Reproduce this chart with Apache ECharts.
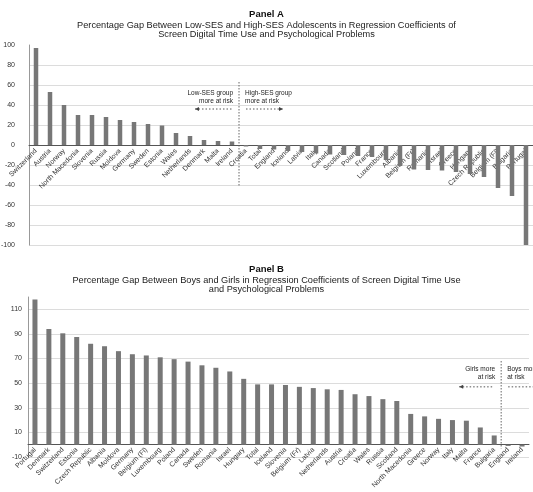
<!DOCTYPE html>
<html>
<head>
<meta charset="utf-8">
<script src="https://cdn.jsdelivr.net/npm/echarts@6/dist/echarts.min.js"></script>
<style>
  html, body { margin: 0; padding: 0; background: #ffffff; }
  #chart { width: 533px; height: 492px; }
</style>
</head>
<body>
<div id="chart"></div>
<script>
// Panel A: gap between low-SES and high-SES adolescents (%)
const sesCountries = [
  'Switzerland', 'Austria', 'Norway', 'North Macedonia', 'Slovenia', 'Russia',
  'Moldova', 'Germany', 'Sweden', 'Estonia', 'Wales', 'Netherlands', 'Denmark',
  'Malta', 'Ireland', 'Croatia', 'Total', 'England', 'Iceland', 'Latvia', 'Italy',
  'Canada', 'Scotland', 'Poland', 'France', 'Luxembourg', 'Albania', 'Belgium (Fr)',
  'Romania', 'Israel', 'Greece', 'Hungary', 'Czech Republic', 'Belgium (Fl)',
  'Bulgaria', 'Portugal'
];
const sesGap = [
  97, 53, 40, 30, 30, 28, 25, 23, 21, 19.5, 12, 9, 5, 4, 3.5, -1.5, -4, -4.5,
  -6, -7, -8.5, -9.5, -10, -11, -12, -15, -21, -24.5, -25, -25.5, -27, -29, -32,
  -43, -51, -100
];
const sesAxisRange = [-100, 100];
const sesAxisStep = 20;

// Panel B: gap between boys and girls (%)
const sexCountries = [
  'Portugal', 'Denmark', 'Switzerland', 'Estonia', 'Czech Republic', 'Albania',
  'Moldova', 'Germany', 'Belgium (Fl)', 'Luxembourg', 'Poland', 'Canada', 'Sweden',
  'Romania', 'Israel', 'Hungary', 'Total', 'Iceland', 'Slovenia', 'Belgium (Fr)',
  'Latvia', 'Netherlands', 'Austria', 'Croatia', 'Wales', 'Russia', 'Scotland',
  'North Macedonia', 'Greece', 'Norway', 'Italy', 'Malta', 'France', 'Bulgaria',
  'England', 'Ireland'
];
const sexGap = [
  118, 94, 90.5, 87.5, 82, 80, 76, 73.5, 72.5, 71, 69.5, 67.5, 64.5, 62.5, 59.5,
  53.5, 49, 49, 48.5, 47, 46, 45, 44.5, 41, 39.5, 37, 35.5, 25, 23, 21, 20, 19.5,
  14, 7.5, -1, -1.5
];
const sexAxisRange = [-10, 120];
const sexAxisStep = 20;

// Annotation text
const sesLeftNote = 'Low-SES group\nmore at risk';
const sesRightNote = 'High-SES group\nmore at risk';
const sexLeftNote = 'Girls more\nat risk';
const sexRightNote = 'Boys more\nat risk';

const FONT = '"Liberation Sans", Arial, sans-serif';
const BAR = '#777777';
const GRID_LINE = '#dcdcdc';

const chart = echarts.init(document.getElementById('chart'), null, { renderer: 'canvas' });

function catAxis(gridIndex, data, labelGap) {
  return {
    type: 'category',
    gridIndex: gridIndex,
    data: data,
    axisLine: { onZero: false, lineStyle: { color: '#555', width: 1 } },
    axisTick: { show: false },
    axisLabel: {
      rotate: 45, interval: 0, margin: labelGap,
      fontFamily: FONT, fontSize: 7, color: '#333'
    },
    splitLine: { show: false }
  };
}

function valAxis(gridIndex, range, step, labelGap) {
  return {
    type: 'value',
    gridIndex: gridIndex,
    min: range[0], max: range[1], interval: step,
    axisLine: { show: true, lineStyle: { color: '#999', width: 1 } },
    axisTick: { show: false },
    axisLabel: {
      fontFamily: FONT, fontSize: 7, color: '#333', margin: labelGap,
      showMaxLabel: (range[1] - range[0]) % step === 0
    },
    splitLine: { show: true, showMaxLine: false, lineStyle: { color: GRID_LINE, width: 1 } }
  };
}

const titleStyle = { fontFamily: FONT, fontSize: 9.5, fontWeight: 'bold', color: '#111' };
const subStyle = { fontFamily: FONT, fontSize: 9.2, fontWeight: 'normal', color: '#222', lineHeight: 8.7 };

chart.setOption({
  animation: false,
  backgroundColor: '#ffffff',
  title: [
    { text: 'Panel A', left: 'center', top: 4, textStyle: titleStyle,
      subtext: 'Percentage Gap Between Low-SES and High-SES Adolescents in Regression Coefficients of\nScreen Digital Time Use and Psychological Problems',
      subtextStyle: subStyle, itemGap: 2 },
    { text: 'Panel B', left: 'center', top: 259, textStyle: titleStyle,
      subtext: 'Percentage Gap Between Boys and Girls in Regression Coefficients of Screen Digital Time Use\nand Psychological Problems',
      subtextStyle: subStyle, itemGap: 2 }
  ],
  grid: [
    { left: 29, right: 0, top: 45, height: 200, outerBoundsMode: 'none', containLabel: false },
    { left: 28, right: 4, top: 297, height: 160, outerBoundsMode: 'none', containLabel: false }
  ],
  xAxis: [catAxis(0, sesCountries, 5), catAxis(1, sexCountries, 4)],
  yAxis: [valAxis(0, sesAxisRange, sesAxisStep, 14), valAxis(1, sexAxisRange, sexAxisStep, 6)],
  series: [
    { type: 'bar', xAxisIndex: 0, yAxisIndex: 0, data: sesGap, barWidth: 4.5,
      itemStyle: { color: BAR }, silent: true },
    { type: 'bar', xAxisIndex: 1, yAxisIndex: 1, data: sexGap, barWidth: 5,
      itemStyle: { color: BAR }, silent: true }
  ]
});

// Lift each category axis (line and labels) up to the zero value of its panel
function zeroOffset(idx, range) {
  const yZero = chart.convertToPixel({ yAxisIndex: idx }, 0);
  const yMin = chart.convertToPixel({ yAxisIndex: idx }, range[0]);
  return -(yMin - yZero);
}
chart.setOption({
  xAxis: [
    { offset: zeroOffset(0, sesAxisRange) },
    { offset: zeroOffset(1, sexAxisRange) }
  ]
});

// Divider lines and "more at risk" notes, placed from the axes' own scales
function px(gridIdx, cat, val) {
  return chart.convertToPixel({ xAxisIndex: gridIdx, yAxisIndex: gridIdx }, [cat, val]);
}

function arrow(x1, x2, y, headAtLeft) {
  const hx = headAtLeft ? x1 : x2;
  const dir = headAtLeft ? 1 : -1;
  return [
    { type: 'line', shape: { x1: x1, y1: y, x2: x2, y2: y }, silent: true,
      style: { stroke: '#555', lineWidth: 1, lineDash: [1.5, 2] } },
    { type: 'polygon', silent: true,
      shape: { points: [[hx, y], [hx + dir * 4, y - 2], [hx + dir * 4, y + 2]] },
      style: { fill: '#444' } }
  ];
}

function noteGroup(gridIdx, leftCat, rightCat, topVal, bottomVal, textVal1, arrowVal,
                   leftText, rightText, arrowLen) {
  const a = px(gridIdx, leftCat, topVal);
  const b = px(gridIdx, rightCat, topVal);
  const xd = (a[0] + b[0]) / 2;
  const yTop = a[1];
  const yBot = px(gridIdx, leftCat, bottomVal)[1];
  const yText = px(gridIdx, leftCat, textVal1)[1];
  const yArrow = px(gridIdx, leftCat, arrowVal)[1];
  const txt = { fontFamily: FONT, fontSize: 6.5, fill: '#222', lineHeight: 8.5, textVerticalAlign: 'top' };
  return [
    { type: 'line', silent: true, shape: { x1: xd, y1: yTop, x2: xd, y2: yBot },
      style: { stroke: '#666', lineWidth: 1, lineDash: [1.5, 1.5] } },
    { type: 'text', silent: true, x: xd - 6, y: yText,
      style: Object.assign({ text: leftText, textAlign: 'right' }, txt) },
    { type: 'text', silent: true, x: xd + 6, y: yText,
      style: Object.assign({ text: rightText, textAlign: 'left' }, txt) }
  ].concat(arrow(xd - arrowLen - 6, xd - 7, yArrow, true))
   .concat(arrow(xd + 7, xd + arrowLen + 6, yArrow, false));
}

chart.setOption({
  graphic: [].concat(
    noteGroup(0, 'Ireland', 'Croatia', 63, -42, 56.5, 36, sesLeftNote, sesRightNote, 38),
    noteGroup(1, 'Bulgaria', 'England', 68, -3, 65, 47, sexLeftNote, sexRightNote, 36)
  )
});
</script>
</body>
</html>
